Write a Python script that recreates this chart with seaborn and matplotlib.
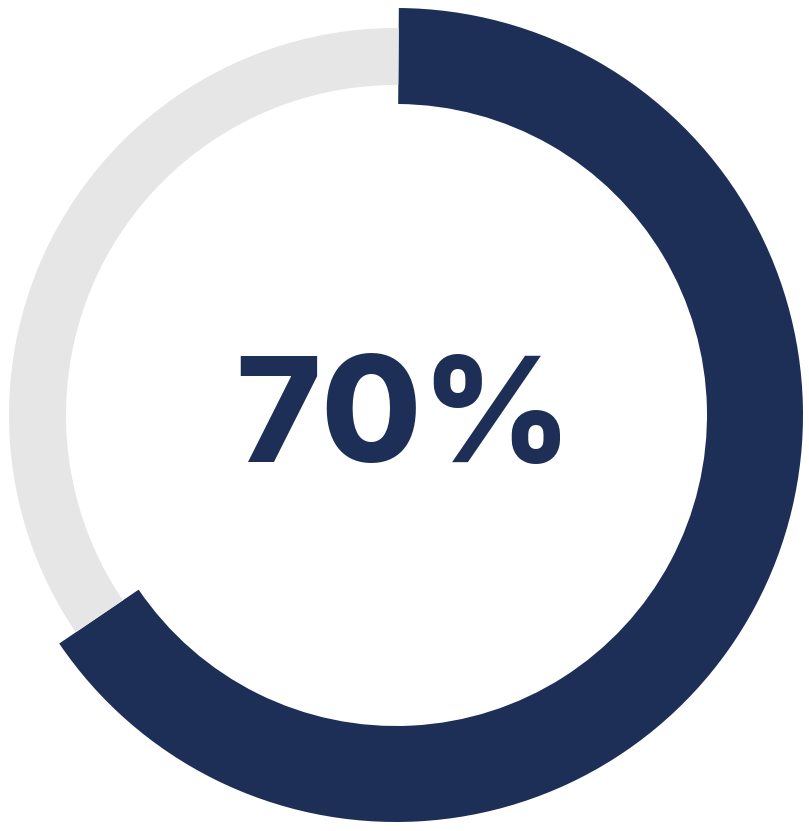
import matplotlib
matplotlib.use("Agg")
import matplotlib.pyplot as plt
import seaborn as sns

# Data
labels = ["Complete", "Remaining"]
values = [65.4, 34.6]          # drawn arc share (clockwise from top)
label_text = "70%"

navy = "#1e2f57"
gray = "#e6e6e6"

sns.set_theme(style="white")
plt.rcParams["font.family"] = ["Inter", "DejaVu Sans"]

W, H = 809, 831
fig = plt.figure(figsize=(W / 100, H / 100), dpi=100)
ax = fig.add_axes([0, 0, 1, 1])

cx, cy = 396, H - 415

# Navy progress ring (thicker)
ax.pie(values, colors=[navy, "none"], startangle=89.6, counterclock=False,
       radius=407, center=(cx, cy),
       wedgeprops=dict(width=96, linewidth=0, edgecolor="none"))
# Light gray remainder ring (thinner)
ax.pie(values, colors=["none", gray], startangle=89.6, counterclock=False,
       radius=387, center=(cx, cy),
       wedgeprops=dict(width=57, linewidth=0, edgecolor="none"))

ax.text(404, H - 462, label_text, ha="center", va="baseline",
        fontsize=105, fontweight="heavy", color=navy)

ax.set_xlim(0, W)
ax.set_ylim(0, H)
ax.set_aspect("equal")
ax.axis("off")

fig.savefig("out.png", dpi=100, facecolor="white")
